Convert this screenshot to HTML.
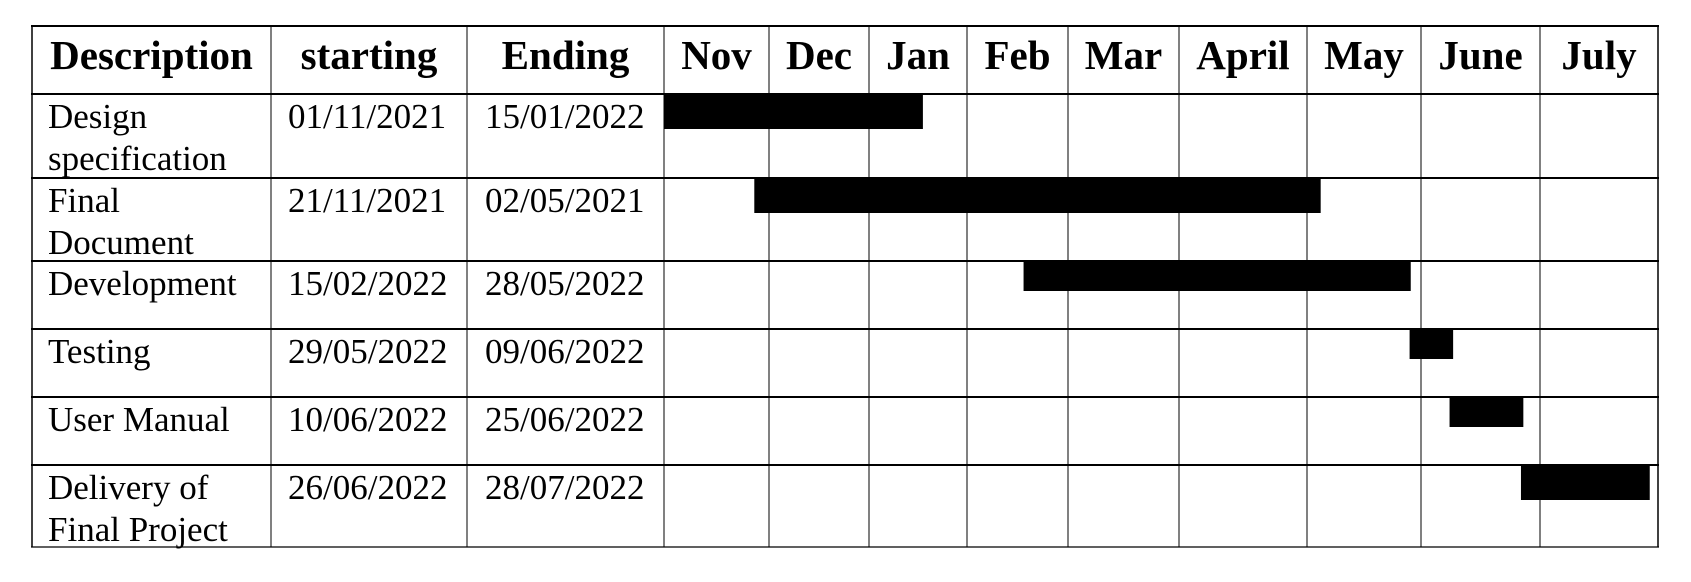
<!DOCTYPE html>
<html><head><meta charset="utf-8"><style>
html,body{margin:0;padding:0;background:#fff;}
svg{display:block;font-family:"Liberation Serif",serif;}
</style></head><body>
<svg id="chart" width="1691" height="582" viewBox="0 0 1691 582" xmlns="http://www.w3.org/2000/svg">
<rect x="0" y="0" width="1691" height="582" fill="#fff"/>
<g id="grid"></g><g id="bars"></g><g id="labels"></g>
</svg>
<script>
const months = ["Nov","Dec","Jan","Feb","Mar","April","May","June","July"];
const tasks = [["Design","specification"],["Final","Document"],["Development"],["Testing"],["User Manual"],["Delivery of","Final Project"]];
const startDates = ["01/11/2021","21/11/2021","15/02/2022","29/05/2022","10/06/2022","26/06/2022"];
const endDates = ["15/01/2022","02/05/2021","28/05/2022","09/06/2022","25/06/2022","28/07/2022"];
// bar start/end in months since start of Nov 2021
const barStart = [0, 0.86, 3.56, 6.90, 7.24, 7.84];
const barEnd = [2.55, 6.12, 6.91, 7.27, 7.86, 8.93];

const NS = "http://www.w3.org/2000/svg";
const colX = [32,271,467,664,769,869,967,1068,1179,1307,1421,1540,1658];
const rowY = [26,94,178,261,329,397,465,547];
const monthCols = colX.slice(3);
function xScale(m){
  const i = Math.max(0, Math.min(months.length-1, Math.floor(m)));
  const f = m - i;
  return monthCols[i] + f*(monthCols[i+1]-monthCols[i]);
}
function mk(tag, attrs, parent){
  const e = document.createElementNS(NS, tag);
  for (const k in attrs) e.setAttribute(k, attrs[k]);
  parent.appendChild(e); return e;
}
const grid = document.getElementById('grid'), bars = document.getElementById('bars'), labels = document.getElementById('labels');

tasks.forEach((t,i)=>{
  const top = rowY[i+1], rh = rowY[i+2]-rowY[i+1];
  const h = rh > 75 ? 35 : 30;
  const r = mk('rect',{x:xScale(barStart[i]), y:top, width:xScale(barEnd[i])-xScale(barStart[i]), height:h, fill:'#000'}, bars);
  
  
});

rowY.forEach((y,i)=>{
  const l = mk('line',{x1:31, x2:1659, y1:y, y2:y, stroke:'#000', 'stroke-width': (i===rowY.length-1)?1.2:2}, grid);
  
  
});
colX.forEach((x,i)=>{
  const l = mk('line',{x1:x, x2:x, y1:26, y2:547, stroke:'#000', 'stroke-width': (i===0||i===colX.length-1)?1.5:1}, grid);
  
  
});

const heads = ["Description","starting","Ending"].concat(months);
heads.forEach((h,i)=>{
  const t = mk('text',{x:(colX[i]+colX[i+1])/2, y:69, 'text-anchor':'middle', 'font-size':41, 'font-weight':'bold'}, labels);
  t.textContent = h;
  
  
});

tasks.forEach((lines,i)=>{
  const base = rowY[i+1]+34;
  lines.forEach((ln,j)=>{
    const t = mk('text',{x:48, y:base+j*42, 'font-size':35}, labels);
    t.textContent = ln;
    
    
  });
  const s = mk('text',{x:288, y:base, 'font-size':35}, labels);
  s.textContent = startDates[i];
  
  
  const e = mk('text',{x:485, y:base, 'font-size':35}, labels);
  e.textContent = endDates[i];
  
  
});
</script>
</body></html>
